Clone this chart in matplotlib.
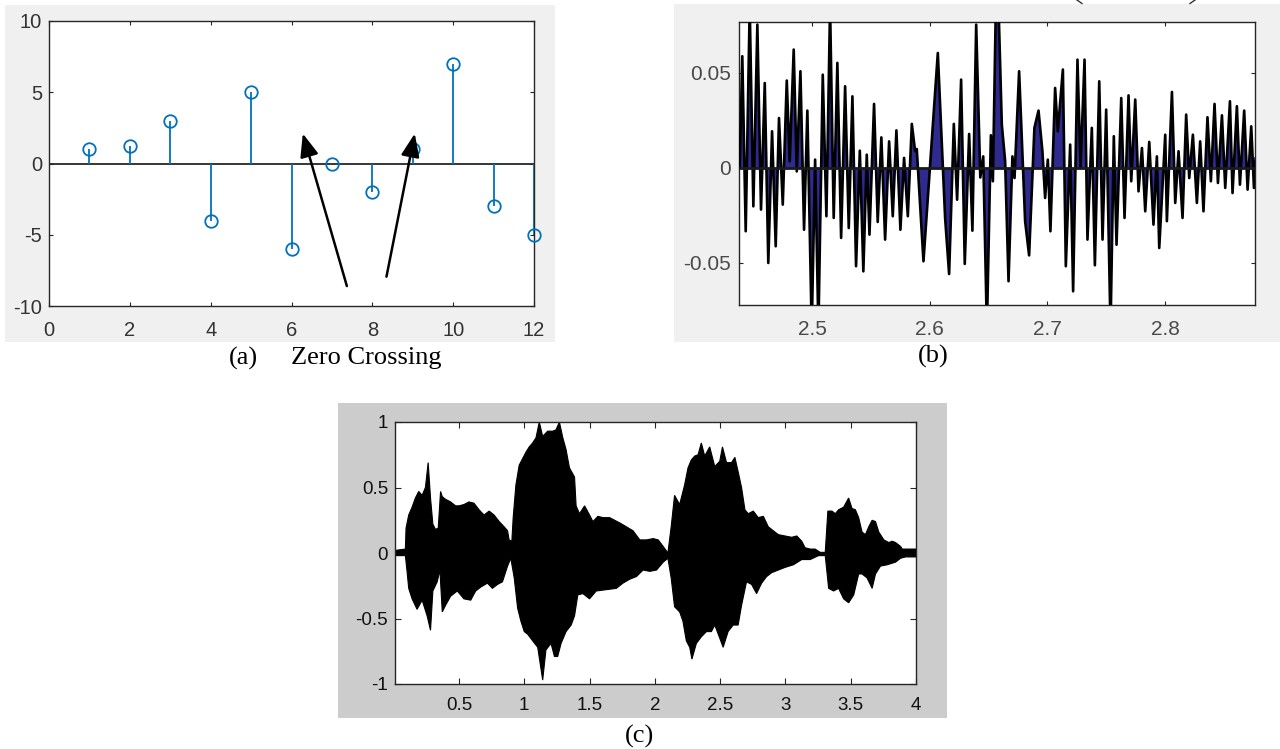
import numpy as np
import matplotlib
matplotlib.use("Agg")
import matplotlib.pyplot as plt
from matplotlib.patches import Rectangle
from matplotlib.lines import Line2D

plt.rcParams['axes.unicode_minus'] = False
plt.rcParams['font.family'] = ['Liberation Sans', 'DejaVu Sans']

# ---------------- data ----------------
# (a) zero-crossing stem plot
stem_n = [1, 2, 3, 4, 5, 6, 7, 8, 9, 10, 11, 12]
stem_vals = [1, 1.2, 3, -4, 5, -6, 0, -2, 1, 7, -3, -5]
arrow_tails = [(7.37, -8.6), (8.35, -7.94)]
arrow_heads = [(6.28, 2.1), (9.05, 2.1)]
a_xticks = [0, 2, 4, 6, 8, 10, 12]
a_yticks = [-10, -5, 0, 5, 10]
a_yticklabels = ['-10', '-5', '0', '5', '10']

# (b) zoomed waveform (peaks / troughs)
b_t = [2.4385, 2.4407, 2.4436, 2.4470, 2.4501, 2.4535, 2.4566, 2.4598, 2.4628, 2.4660,
       2.4691, 2.4719, 2.4751, 2.4785, 2.4810, 2.4844, 2.4870, 2.4901, 2.4932, 2.4960,
       2.4997, 2.5026, 2.5054, 2.5091, 2.5122, 2.5153, 2.5184, 2.5215, 2.5247, 2.5281,
       2.5312, 2.5343, 2.5374, 2.5406, 2.5436, 2.5465, 2.5488, 2.5527, 2.5558, 2.5589,
       2.5621, 2.5655, 2.5686, 2.5717, 2.5751, 2.5782, 2.5814, 2.5848, 2.5876, 2.5890,
       2.5947, 2.6069, 2.6131, 2.6165, 2.6205, 2.6233, 2.6267, 2.6298, 2.6335, 2.6363,
       2.6395, 2.6430, 2.6455, 2.6486, 2.6520, 2.6537, 2.6562, 2.6585, 2.6613, 2.6641,
       2.6670, 2.6703, 2.6721, 2.6760, 2.6811, 2.6845, 2.6890, 2.6925, 2.6958, 2.6981,
       2.7004, 2.7026, 2.7066, 2.7089, 2.7132, 2.7157, 2.7194, 2.7219, 2.7256, 2.7282,
       2.7316, 2.7341, 2.7378, 2.7404, 2.7441, 2.7469, 2.7500, 2.7537, 2.7565, 2.7588,
       2.7628, 2.7656, 2.7690, 2.7713, 2.7747, 2.7775, 2.7804, 2.7832, 2.7866, 2.7902,
       2.7931, 2.7951, 2.8002, 2.8016, 2.8059, 2.8087, 2.8115, 2.8149, 2.8180, 2.8206,
       2.8237, 2.8271, 2.8299, 2.8327, 2.8361, 2.8390, 2.8421, 2.8450, 2.8484, 2.8512,
       2.8552, 2.8574, 2.8611, 2.8637, 2.8673, 2.8702, 2.8733, 2.8756, 2.8770]
b_y = [0.0000, 0.0588, -0.0333, 0.0850, -0.0202, 0.0754, -0.0219, 0.0447, -0.0500, 0.0193,
       -0.0412, 0.0263, -0.0193, 0.0460, 0.0035, 0.0623, -0.0018, 0.0509, -0.0325, 0.0302,
       -0.0850, 0.0044, -0.0850, 0.0491, -0.0254, 0.0850, -0.0263, 0.0553, -0.0368, 0.0430,
       -0.0316, 0.0377, -0.0517, 0.0091, -0.0544, 0.0070, -0.0351, 0.0337, -0.0284, 0.0161,
       -0.0377, 0.0140, -0.0254, 0.0198, -0.0325, 0.0053, -0.0254, 0.0232, 0.0088, 0.0100,
       -0.0491, 0.0605, -0.0263, -0.0558, 0.0232, -0.0167, 0.0465, -0.0505, 0.0179, -0.0330,
       0.0754, -0.0050, 0.0061, -0.0850, 0.0172, -0.0070, 0.0850, 0.0850, 0.0228, 0.0037,
       -0.0596, 0.0061, -0.0053, 0.0509, -0.0280, -0.0460, 0.0211, 0.0302, 0.0088, -0.0158,
       0.0044, -0.0333, 0.0421, 0.0193, 0.0518, -0.0517, 0.0123, -0.0649, 0.0570, 0.0000,
       0.0570, -0.0377, 0.0211, -0.0512, 0.0456, -0.0377, 0.0307, -0.0850, 0.0167, -0.0404,
       0.0368, -0.0263, 0.0382, -0.0070, 0.0360, -0.0123, 0.0105, -0.0228, 0.0137, -0.0298,
       0.0061, -0.0421, 0.0175, -0.0280, 0.0400, -0.0184, 0.0088, -0.0263, 0.0281, -0.0053,
       0.0175, -0.0184, 0.0140, -0.0228, 0.0267, -0.0070, 0.0337, -0.0079, 0.0277, -0.0105,
       0.0351, -0.0132, 0.0325, -0.0088, 0.0302, -0.0114, 0.0219, -0.0105, 0.0050]
b_xticks = [2.5, 2.6, 2.7, 2.8]
b_xticklabels = ['2.5', '2.6', '2.7', '2.8']
b_yticks = [-0.05, 0, 0.05]
b_yticklabels = ['-0.05', '0', '0.05']

# (c) speech waveform envelope
c_up_t = [0.0, 0.0126, 0.0895, 0.0946, 0.115, 0.141, 0.166, 0.192, 0.218, 0.243, 0.264,
          0.282, 0.300, 0.320, 0.341, 0.359, 0.372, 0.397, 0.436, 0.474, 0.500, 0.538,
          0.577, 0.615, 0.654, 0.692, 0.731, 0.769, 0.808, 0.846, 0.872, 0.884, 0.905,
          0.915, 0.936, 0.961, 0.987, 1.013, 1.038, 1.064, 1.090, 1.115, 1.141, 1.179,
          1.218, 1.243, 1.269, 1.295, 1.320, 1.346, 1.385, 1.397, 1.423, 1.462, 1.500,
          1.526, 1.564, 1.603, 1.654, 1.692, 1.731, 1.782, 1.833, 1.885, 1.936, 1.987,
          2.026, 2.064, 2.100, 2.125, 2.151, 2.190, 2.228, 2.254, 2.279, 2.305, 2.331,
          2.356, 2.382, 2.420, 2.459, 2.497, 2.518, 2.549, 2.587, 2.613, 2.638, 2.664,
          2.690, 2.715, 2.754, 2.792, 2.831, 2.869, 2.907, 2.946, 2.997, 3.048, 3.087,
          3.125, 3.151, 3.190, 3.228, 3.266, 3.305, 3.325, 3.356, 3.382, 3.407, 3.446,
          3.484, 3.510, 3.536, 3.561, 3.587, 3.613, 3.638, 3.664, 3.690, 3.715, 3.754,
          3.792, 3.818, 3.843, 3.882, 3.895, 4.0]
c_up = [0.02, 0.02, 0.03, 0.19, 0.29, 0.35, 0.42, 0.47, 0.44, 0.50, 0.69,
        0.42, 0.22, 0.18, 0.19, 0.47, 0.43, 0.41, 0.39, 0.36, 0.36, 0.37,
        0.39, 0.38, 0.33, 0.29, 0.32, 0.29, 0.24, 0.20, 0.17, 0.10, 0.09,
        0.27, 0.52, 0.67, 0.72, 0.77, 0.81, 0.84, 0.88, 1.00, 0.89, 0.93,
        0.93, 0.94, 1.00, 0.88, 0.79, 0.65, 0.58, 0.36, 0.30, 0.36, 0.29,
        0.24, 0.28, 0.27, 0.27, 0.25, 0.23, 0.20, 0.17, 0.10, 0.10, 0.11,
        0.10, 0.05, 0.00, 0.20, 0.44, 0.37, 0.52, 0.65, 0.71, 0.74, 0.75,
        0.84, 0.74, 0.81, 0.66, 0.70, 0.81, 0.69, 0.69, 0.73, 0.62, 0.50,
        0.33, 0.30, 0.32, 0.27, 0.28, 0.20, 0.17, 0.14, 0.13, 0.12, 0.13,
        0.09, 0.04, 0.03, 0.03, 0.005, 0.005, 0.32, 0.32, 0.30, 0.33, 0.35,
        0.42, 0.34, 0.33, 0.27, 0.16, 0.14, 0.20, 0.25, 0.24, 0.16, 0.10,
        0.08, 0.09, 0.08, 0.05, 0.03, 0.03]
c_lo_t = [0.0, 0.0126, 0.0895, 0.1023, 0.115, 0.141, 0.179, 0.218, 0.256, 0.282, 0.300,
          0.333, 0.354, 0.372, 0.397, 0.436, 0.487, 0.538, 0.590, 0.628, 0.667, 0.718,
          0.756, 0.795, 0.833, 0.872, 0.897, 0.923, 0.949, 0.974, 1.000, 1.026, 1.064,
          1.103, 1.141, 1.166, 1.205, 1.231, 1.256, 1.282, 1.320, 1.359, 1.385, 1.410,
          1.449, 1.500, 1.551, 1.628, 1.705, 1.756, 1.808, 1.859, 1.910, 1.961, 2.013,
          2.064, 2.100, 2.125, 2.151, 2.190, 2.215, 2.241, 2.267, 2.284, 2.318, 2.356,
          2.395, 2.433, 2.459, 2.497, 2.523, 2.561, 2.600, 2.638, 2.664, 2.702, 2.741,
          2.779, 2.818, 2.856, 2.895, 2.946, 2.997, 3.061, 3.125, 3.190, 3.254, 3.305,
          3.331, 3.369, 3.407, 3.446, 3.484, 3.523, 3.561, 3.587, 3.625, 3.664, 3.690,
          3.728, 3.779, 3.843, 3.882, 3.920, 4.0]
c_lo = [-0.02, -0.02, -0.02, -0.14, -0.27, -0.35, -0.43, -0.36, -0.48, -0.59, -0.29,
        -0.22, -0.13, -0.45, -0.40, -0.33, -0.29, -0.35, -0.36, -0.29, -0.26, -0.23,
        -0.27, -0.24, -0.22, -0.10, -0.04, -0.19, -0.42, -0.52, -0.60, -0.62, -0.67,
        -0.72, -0.97, -0.74, -0.69, -0.79, -0.79, -0.69, -0.60, -0.55, -0.48, -0.32,
        -0.31, -0.35, -0.29, -0.28, -0.27, -0.23, -0.20, -0.18, -0.13, -0.14, -0.13,
        -0.07, -0.04, -0.19, -0.41, -0.45, -0.52, -0.67, -0.72, -0.81, -0.69, -0.64,
        -0.60, -0.60, -0.55, -0.65, -0.72, -0.60, -0.55, -0.55, -0.40, -0.22, -0.24,
        -0.31, -0.23, -0.18, -0.15, -0.13, -0.11, -0.09, -0.05, -0.05, -0.02, -0.02,
        -0.27, -0.29, -0.27, -0.35, -0.38, -0.32, -0.16, -0.16, -0.19, -0.27, -0.16,
        -0.10, -0.09, -0.07, -0.04, -0.03, -0.03]
c_xticks = [0.5, 1, 1.5, 2, 2.5, 3, 3.5, 4]
c_xticklabels = ['0.5', '1', '1.5', '2', '2.5', '3', '3.5', '4']
c_yticks = [-1, -0.5, 0, 0.5, 1]
c_yticklabels = ['-1', '-0.5', '0', '0.5', '1']

# ---------------- figure ----------------
W, H = 1280, 749
fig = plt.figure(figsize=(W / 100, H / 100), dpi=100)
fig.patch.set_facecolor('white')


def px_rect(x0, y0, x1, y1):
    return [x0 / W, 1 - y1 / H, (x1 - x0) / W, (y1 - y0) / H]


def add_bg(x0, y0, x1, y1, color):
    r = px_rect(x0, y0, x1, y1)
    fig.patches.append(Rectangle((r[0], r[1]), r[2], r[3], transform=fig.transFigure,
                                 facecolor=color, edgecolor='none', zorder=-10))


add_bg(5, 5, 555, 342, '#F0F0F0')
add_bg(674, 4, 1280, 342, '#F0F0F0')
add_bg(338, 403, 947, 718, '#CCCCCC')

# ---- (a) ----
axa = fig.add_axes(px_rect(49, 21, 534, 306))
axa.set_xlim(0, 12)
axa.set_ylim(-10, 10)
axa.axhline(0, color='#262626', lw=1.3, zorder=2)
axa.vlines(stem_n, 0, stem_vals, color='#0072BD', lw=1.3, zorder=3)
axa.plot(stem_n, stem_vals, 'o', ms=9, mfc='none', mec='#0072BD', mew=1.3,
         zorder=4, clip_on=False)
for tail, head in zip(arrow_tails, arrow_heads):
    axa.annotate('', xy=head, xytext=tail, xycoords='data',
                 arrowprops=dict(arrowstyle='-|>,head_length=0.5,head_width=0.2',
                                 color='black', lw=1.8, shrinkA=0, shrinkB=0,
                                 mutation_scale=28), zorder=6)
axa.set_xticks(a_xticks)
axa.set_xticklabels([str(v) for v in a_xticks])
axa.set_yticks(a_yticks)
axa.set_yticklabels(a_yticklabels)

# ---- (b) ----
axb = fig.add_axes(px_rect(739, 22, 1255, 305))
axb.set_xlim(2.4379, 2.8765)
axb.set_ylim(-0.0721, 0.0768)
axb.fill_between(b_t, b_y, 0, color='#2E2A8E', lw=0, zorder=2)
axb.plot(b_t, b_y, color='black', lw=1.9, zorder=3)
axb.axhline(0, color='#1a1a1a', lw=2.0, zorder=4)
axb.set_xticks(b_xticks)
axb.set_xticklabels(b_xticklabels)
axb.set_yticks(b_yticks)
axb.set_yticklabels(b_yticklabels)

# ---- (c) ----
axc = fig.add_axes(px_rect(395, 422, 916, 684))
axc.set_xlim(0.01, 4)
axc.set_ylim(-1, 1)
poly_t = np.concatenate([c_up_t, c_lo_t[::-1]])
poly_y = np.concatenate([c_up, c_lo[::-1]])
axc.fill(poly_t, poly_y, color='black', lw=0.8, zorder=2)
axc.set_xticks(c_xticks)
axc.set_xticklabels(c_xticklabels)
axc.set_yticks(c_yticks)
axc.set_yticklabels(c_yticklabels)

for ax, lab_col, xpad, ypad, size, tlen in [
        (axa, '#333333', 11, 5, 14.5, 3),
        (axb, '#4a4a4a', 11, 6, 15, 3),
        (axc, '#111111', 9, 5, 13.5, 4)]:
    ax.tick_params(direction='in', top=True, right=True, length=tlen, width=0.8,
                   labelsize=size, labelcolor=lab_col, color='#262626')
    ax.tick_params(axis='x', pad=xpad)
    ax.tick_params(axis='y', pad=ypad)
    for s in ax.spines.values():
        s.set_color('#262626')
        s.set_linewidth(1.0)
    ax.set_facecolor('white')

# ---- captions ----
serif = ['Liberation Serif', 'DejaVu Serif']
fs_cap = 19
fig.text(229 / W, 1 - 358 / H, '(a)', family=serif, fontsize=fs_cap, ha='left', va='center')
fig.text(291 / W, 1 - 358 / H, 'Zero Crossing', family=serif, fontsize=fs_cap, ha='left', va='center')
fig.text(933 / W, 1 - 356 / H, '(b)', family=serif, fontsize=fs_cap, ha='center', va='center')
fig.text(640 / W, 1 - 736 / H, '(c)', family=serif, fontsize=fs_cap, ha='center', va='center')

# tails of a cut-off caption's parentheses at the very top edge
for (x0, y0, x1, y1) in [(1077, 0, 1082, 3.5), (1195, 0, 1190, 3.5)]:
    fig.add_artist(Line2D([x0 / W, x1 / W], [1 - y0 / H, 1 - y1 / H],
                          transform=fig.transFigure, color='#333333', lw=1.0))

fig.savefig('out.png', dpi=100)
